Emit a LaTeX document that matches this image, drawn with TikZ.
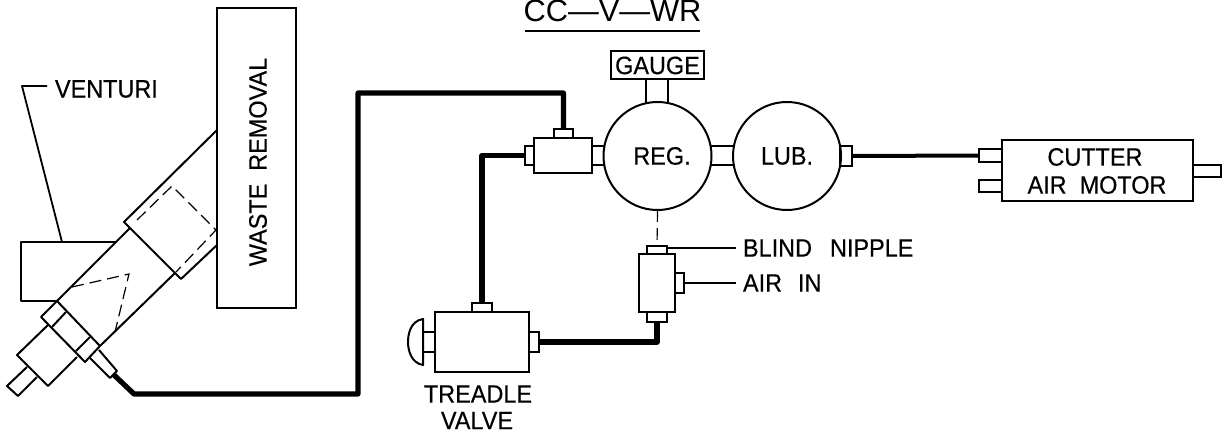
\documentclass[tikz,border=0pt]{standalone}
\usepackage{fontspec}
\setmainfont{Liberation Sans}
\newfontfamily\lblfont[FakeBold=0.4,FakeStretch=0.93]{Liberation Sans}
\usetikzlibrary{calc}
\newcommand{\pbox}[5]{% name x1 y1 x2 y2
  \pgfmathsetmacro{\pcx}{(#2+#4)/2}\pgfmathsetmacro{\pcy}{(#3+#5)/2}%
  \pgfmathsetmacro{\pw}{(#4-#2)*0.5}\pgfmathsetmacro{\ph}{(#5-#3)*0.5}%
  \node[partbox,minimum width=\pw pt,minimum height=\ph pt] (#1) at (\pcx,\pcy) {};}
\tikzset{
  x=0.5pt,y=-0.5pt,
  outline/.style={line width=1pt,line join=round},
  partbox/.style={draw,line width=1pt,inner sep=0pt,outer sep=0pt,rectangle},
  vessel/.style={draw,line width=1pt,circle,inner sep=0pt,outer sep=0pt,minimum size=54pt},
  hidden/.style={line width=0.6pt,dash pattern=on 6pt off 3pt},
  tube/.style={line width=2.6pt,line join=round},
  leader/.style={line width=0.9pt,line join=round},
  lbl/.style={font=\lblfont\fontsize{12.6}{13}\selectfont,inner sep=0pt,outer sep=0pt},
}
\begin{document}
\begin{tikzpicture}
\useasboundingbox (0,0) rectangle (1225,433);
% title
\node[inner sep=0pt,font=\fontsize{15.4}{16}\selectfont] (title) at (612.5,11) {CC—V—WR};
\coordinate (ulL) at (525,31); \coordinate (ulR) at (700,31);
\draw[outline] (ulL) -- (ulR);
% waste removal + venturi assembly
\pbox{waste}{217}{8}{296}{308}
\node[lbl,rotate=90] (wastetxt) at (258,162) {WASTE\ \ REMOVAL};
\draw[outline] (116,242) -- (21,242) -- (21,301) -- (57,301);
\draw[outline] (57,301) -- (130,228);
\draw[outline] (100,346) -- (175,273);
\draw[outline] (217,130) -- (124,222) -- (181,279) -- (217,245);
\draw[outline] (41,317) -- (57,301) -- (100,346) -- (85,362) -- cycle;
\draw[outline] (66,312) -- (52,327);
\draw[outline] (90,337) -- (76,351);
\draw[outline] (48,325) -- (17,355) -- (48,386) -- (77,357);
\draw[outline] (27,367) -- (7,386) -- (18,396) -- (37,377);
\draw[outline] (90,358) -- (110,378) -- (117,371) -- (99,350);
\draw[hidden] (137,220) -- (172,186) -- (216,230) -- (176,272);
\draw[hidden] (72,287) -- (129,274) -- (115,332);
% venturi label
\node[lbl,anchor=west] (venturi) at (55,89) {VENTURI};
\coordinate (vbend) at (22,86); \coordinate (vend) at (62,242);
\draw[leader] (venturi.west |- vbend) ++(-8,0) -- (vbend) -- (vend);
% tee fitting
\pbox{tee}{534}{138}{592}{173}
\pbox{teetop}{554}{129}{573}{138}
\pbox{teeleft}{525}{146}{534}{165}
% regulator, lubricator, gauge
\node[vessel] (reg) at (657.5,156) {};
\node[lbl] (regtxt) at (662,156) {REG.};
\node[vessel] (lub) at (787,156) {};
\node[lbl] (lubtxt) at (787,156) {LUB.};
\pbox{gauge}{611}{51}{704}{79}
\node[lbl] (gaugetxt) at (657.5,65.5) {GAUGE};
\draw[outline] (646,79) -- (646,103);
\draw[outline] (668,79) -- (668,103);
\draw[outline] (592,146) -- (605,146);
\draw[outline] (592,165) -- (605,165);
\draw[outline] (711,146) -- (733,146);
\draw[outline] (711,165) -- (733,165);
\pbox{lubnub}{840}{146}{852}{166}
% air-in tee
\pbox{airtee}{639}{254}{675}{312}
\pbox{airtop}{647}{246}{667}{254}
\pbox{airbot}{647}{312}{667}{322}
\pbox{airright}{675}{273}{684}{293}
\draw[hidden] (reg.south) -- (airtop.north);
\node[lbl,anchor=west] (blind) at (743,248) {BLIND\hspace{9pt}NIPPLE};
\node[lbl,anchor=west] (airin) at (743,283) {AIR\hspace{8pt}IN};
\draw[leader] (airtop.north east) ++(0,2) -- (blind.west -| 736,0);
\draw[leader] (airright.east) -- (airin.west -| 736,0);
% treadle valve
\pbox{treadle}{435}{312}{529}{372}
\pbox{trtop}{472}{303}{492}{312}
\pbox{trright}{529}{332}{539}{352}
\pbox{trstem}{423}{332}{435}{352}
\draw[outline] (423,319) .. controls (410,321) and (408,335) .. (408,342) .. controls (408,350) and (411,363) .. (423,365) -- cycle;
\node[lbl] (trtxt) at (478,394) {TREADLE};
\node[lbl] (trtxtb) at (477,420.5) {VALVE};
% motor
\pbox{motor}{1002}{140}{1193}{201}
\pbox{mstuba}{979}{149}{1002}{162}
\pbox{mstubb}{979}{180}{1002}{192}
\pbox{mstubc}{1193}{165}{1221}{177}
\node[lbl] (cutter) at (1095,157) {CUTTER};
\node[lbl] (airmotor) at (1097,185) {AIR\ \ MOTOR};
% air lines
\coordinate (ventout) at (113,374);
\coordinate (t1) at (134,394); \coordinate (t2) at (358,394);
\coordinate (t3) at (358,93); \coordinate (t4) at (563.5,93);
\draw[tube] (ventout) -- (t1) -- (t2) -- (t3) -- (t4) -- (teetop.north);
\coordinate (t5) at (482,155.5);
\draw[tube] (teeleft.west) -- (t5) -- (trtop.north -| t5);
\coordinate (t6) at (657,342);
\draw[tube] (trright.east) -- (t6) -- (airbot.south);
\draw[line width=2pt] (lubnub.east) -- (mstuba.west);
\end{tikzpicture}
\end{document}
